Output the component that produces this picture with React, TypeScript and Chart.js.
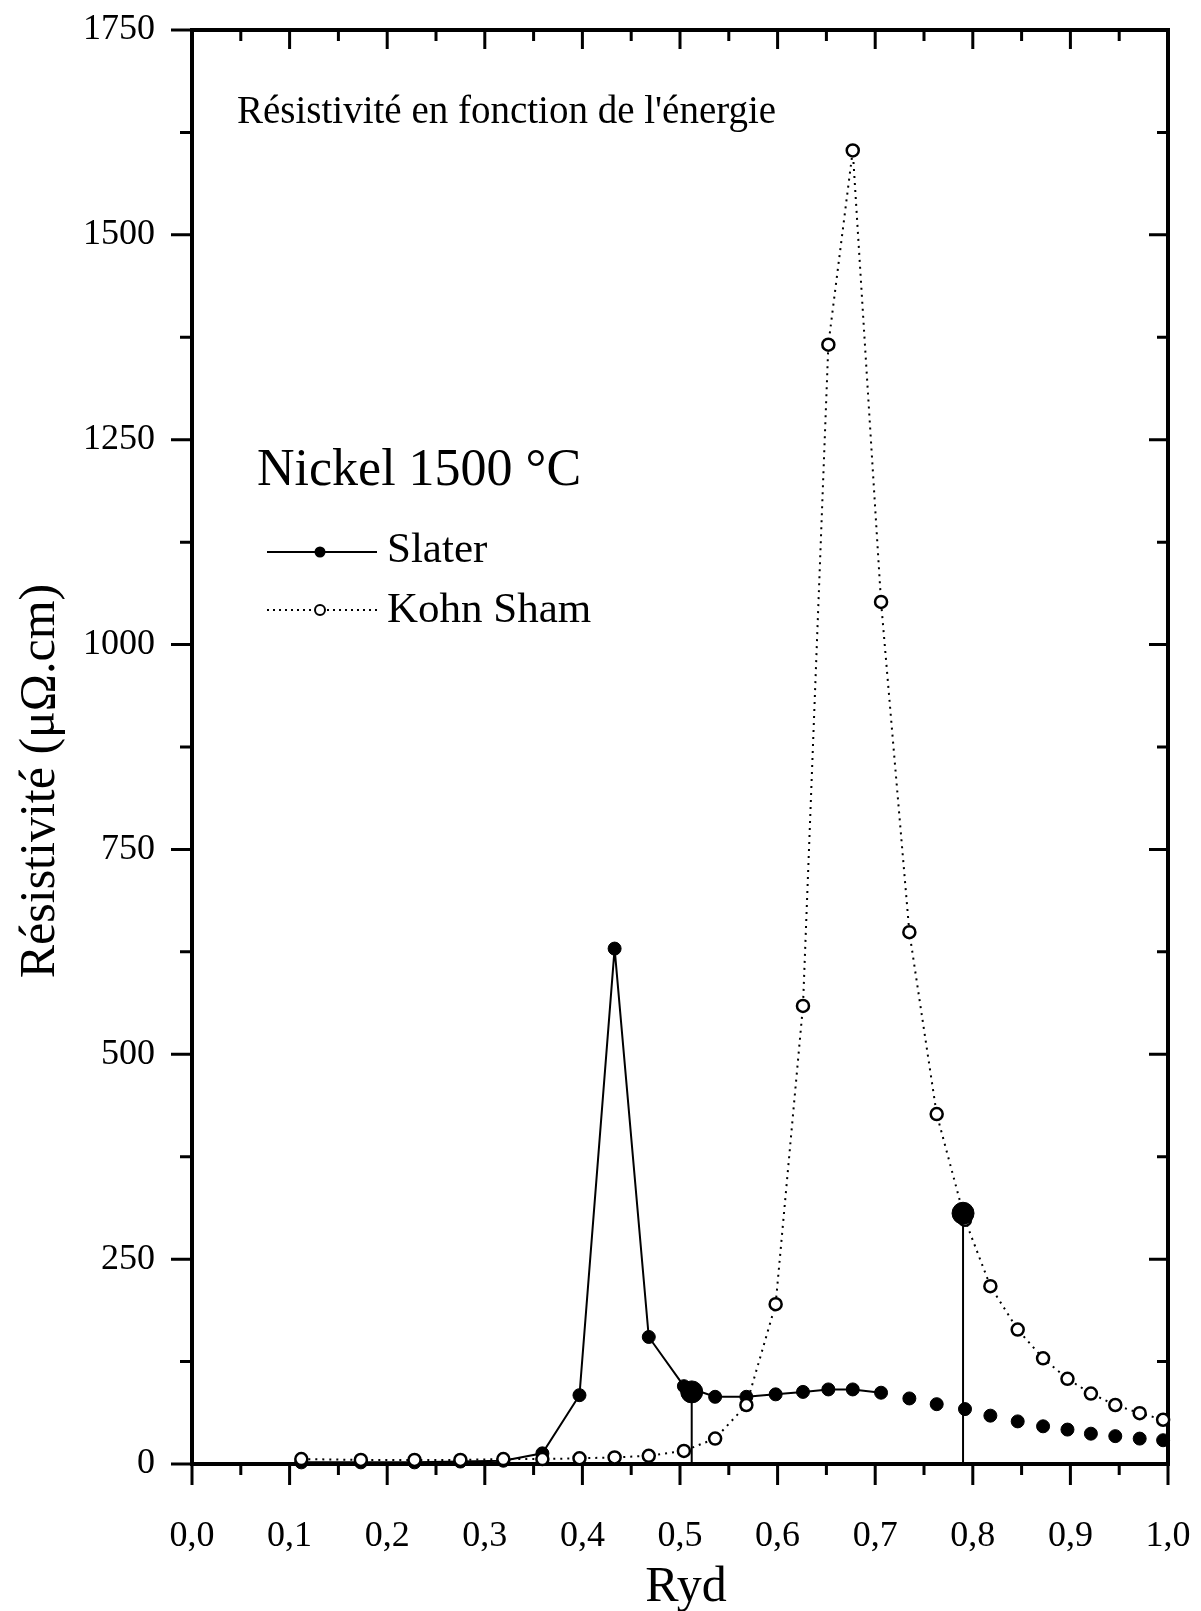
import React, { useEffect, useRef } from 'react';
import { Chart, registerables } from 'chart.js';

Chart.register(...registerables);

// ---- Data ----
const energy = [
  0.112, 0.173, 0.228, 0.275, 0.319, 0.359, 0.397, 0.433, 0.468, 0.504,
  0.536, 0.568, 0.598, 0.626, 0.652, 0.677, 0.706, 0.735, 0.763, 0.792,
  0.818, 0.846, 0.872, 0.897, 0.921, 0.946, 0.971, 0.995,
];
const slaterValues = [
  2, 2, 2, 3, 4, 13, 84, 629, 155, 95,
  82, 82, 85, 88, 91, 91, 87, 80, 73, 67,
  59, 52, 46, 42, 37, 34, 31, 29,
];
const kohnShamValues = [
  6, 5, 5, 5, 6, 6, 7, 8, 10, 16,
  31, 72, 195, 559, 1366, 1603, 1052, 649, 427, 298,
  217, 164, 129, 104, 86, 72, 62, 54,
];
// highlighted points with drop lines
const markerEnergy = [0.512, 0.79];
const markerValues = [88, 306];
// last energy up to which the Slater points are joined by a line
const slaterLineEnd = 0.706;

const xMin = 0;
const xMax = 1;
const xStep = 0.1;
const yMin = 0;
const yMax = 1750;
const yStep = 250;

const titleText = "Résistivité en fonction de l'énergie";
const sampleText = 'Nickel 1500 °C';
const seriesNames = ['Slater', 'Kohn Sham'];
const yTitle = 'Résistivité (μΩ.cm)';
const xTitle = 'Ryd';

const FONT = '"Liberation Serif", "Times New Roman", serif';

const framePlugin = {
  id: 'frameAndText',
  beforeDraw(chart: any) {
    const { ctx, width, height } = chart;
    ctx.save();
    ctx.fillStyle = '#fff';
    ctx.fillRect(0, 0, width, height);
    ctx.restore();
  },
  beforeDatasetsDraw(chart: any) {
    const { ctx, chartArea, scales } = chart;
    const { left, right, top, bottom } = chartArea;
    const x = scales.x;
    const y = scales.y;
    ctx.save();
    ctx.strokeStyle = '#000';
    ctx.lineWidth = 4;
    ctx.strokeRect(left, top, right - left, bottom - top);
    ctx.lineWidth = 3;
    ctx.beginPath();
    const nx = Math.round((xMax - xMin) / (xStep / 2));
    for (let i = 0; i <= nx; i++) {
      const v = xMin + (i * xStep) / 2;
      const major = i % 2 === 0;
      const px = x.getPixelForValue(v);
      ctx.moveTo(px, bottom);
      ctx.lineTo(px, bottom + (major ? 21 : 11));
      ctx.moveTo(px, top);
      ctx.lineTo(px, top + (major ? 19 : 11));
    }
    const ny = Math.round((yMax - yMin) / (yStep / 2));
    for (let j = 0; j <= ny; j++) {
      const v = yMin + (j * yStep) / 2;
      const major = j % 2 === 0;
      const py = y.getPixelForValue(v);
      ctx.moveTo(left, py);
      ctx.lineTo(left - (major ? 21 : 12), py);
      ctx.moveTo(right, py);
      ctx.lineTo(right - (major ? 19 : 11), py);
    }
    ctx.stroke();
    ctx.restore();
  },
  afterDraw(chart: any) {
    const { ctx } = chart;
    ctx.save();
    ctx.fillStyle = '#000';
    ctx.strokeStyle = '#000';
    ctx.textBaseline = 'alphabetic';
    ctx.textAlign = 'left';

    ctx.font = `39px ${FONT}`;
    ctx.fillText(titleText, 237, 123);

    ctx.font = `52px ${FONT}`;
    ctx.fillText(sampleText, 257, 485);

    // legend: Slater
    ctx.lineWidth = 2;
    ctx.setLineDash([]);
    ctx.beginPath();
    ctx.moveTo(267, 552);
    ctx.lineTo(377, 552);
    ctx.stroke();
    ctx.beginPath();
    ctx.arc(320, 552, 5.5, 0, Math.PI * 2);
    ctx.fill();
    // legend: Kohn Sham
    ctx.setLineDash([2, 4]);
    ctx.beginPath();
    ctx.moveTo(267, 610);
    ctx.lineTo(377, 610);
    ctx.stroke();
    ctx.setLineDash([]);
    ctx.beginPath();
    ctx.arc(320, 610, 5, 0, Math.PI * 2);
    ctx.fillStyle = '#fff';
    ctx.fill();
    ctx.lineWidth = 2;
    ctx.stroke();
    ctx.fillStyle = '#000';

    ctx.font = `43px ${FONT}`;
    ctx.fillText(seriesNames[0], 387, 562);
    ctx.fillText(seriesNames[1], 387, 622);

    // axis titles
    ctx.font = `50px ${FONT}`;
    ctx.textAlign = 'center';
    ctx.fillText(xTitle, 686, 1601);

    ctx.save();
    ctx.translate(54, 781);
    ctx.rotate(-Math.PI / 2);
    ctx.font = `50px ${FONT}`;
    ctx.textAlign = 'center';
    ctx.fillText(yTitle, 0, 0);
    ctx.restore();

    ctx.restore();
  },
};

export default function App() {
  const ref = useRef<HTMLCanvasElement>(null);

  useEffect(() => {
    const canvas = ref.current;
    if (!canvas) return;

    const slaterData = energy.map((x, i) => ({ x, y: slaterValues[i] }));
    const ksData = energy.map((x, i) => ({ x, y: kohnShamValues[i] }));
    const markerData = markerEnergy.map((x, i) => ({ x, y: markerValues[i] }));
    const dropLines = markerEnergy.map((x, i) => ({
      label: 'drop' + i,
      data: [
        { x, y: 0 },
        { x, y: markerValues[i] },
      ],
      showLine: true,
      borderColor: '#000',
      borderWidth: 2,
      pointRadius: 0,
      order: 3,
      clip: false as any,
    }));

    const zeroPad = (s: any) => {
      s.paddingTop = 0;
      s.paddingBottom = 0;
      s.paddingLeft = 0;
      s.paddingRight = 0;
    };

    const chart = new Chart(canvas, {
      type: 'scatter',
      data: {
        datasets: [
          {
            label: 'markers',
            data: markerData,
            showLine: false,
            pointRadius: 11,
            pointBackgroundColor: '#000',
            pointBorderColor: '#000',
            pointBorderWidth: 1,
            order: 0,
            clip: false as any,
          },
          {
            label: seriesNames[1],
            data: ksData,
            showLine: true,
            borderColor: '#000',
            borderWidth: 2,
            borderDash: [2, 5],
            pointRadius: 6,
            pointBorderWidth: 2.5,
            pointBackgroundColor: '#fff',
            pointBorderColor: '#000',
            order: 1,
            clip: false as any,
          },
          {
            label: seriesNames[0],
            data: slaterData,
            showLine: true,
            borderColor: '#000',
            borderWidth: 2,
            pointRadius: 6.5,
            pointBackgroundColor: '#000',
            pointBorderColor: '#000',
            pointBorderWidth: 1,
            segment: {
              borderColor: (c: any) =>
                energy[c.p0DataIndex] >= slaterLineEnd ? 'rgba(0,0,0,0)' : '#000',
            },
            order: 2,
            clip: false as any,
          },
          ...dropLines,
        ] as any,
      },
      options: {
        animation: false,
        responsive: false,
        devicePixelRatio: 1,
        events: [],
        layout: { padding: { left: 0, right: 33, top: 30, bottom: 0 } },
        plugins: {
          legend: { display: false },
          tooltip: { enabled: false },
          title: { display: false },
        },
        scales: {
          x: {
            type: 'linear',
            position: 'bottom',
            min: xMin,
            max: xMax,
            grid: { display: false, drawTicks: false },
            border: { display: false },
            ticks: {
              stepSize: xStep,
              autoSkip: false,
              maxRotation: 0,
              padding: 51,
              color: '#000',
              font: { family: FONT, size: 36 },
              callback: (v: any) => Number(v).toFixed(1).replace('.', ','),
            },
            afterFit: (s: any) => {
              s.height = 147;
              zeroPad(s);
            },
          },
          y: {
            type: 'linear',
            min: yMin,
            max: yMax,
            grid: { display: false, drawTicks: false },
            border: { display: false },
            ticks: {
              stepSize: yStep,
              autoSkip: false,
              padding: 37,
              color: '#000',
              font: { family: FONT, size: 36 },
              callback: (v: any) => String(Math.round(Number(v))),
            },
            afterFit: (s: any) => {
              s.width = 192;
              zeroPad(s);
            },
          },
        },
      } as any,
      plugins: [framePlugin],
    });

    return () => chart.destroy();
  }, []);

  return (
    <div style={{ position: 'absolute', left: 0, top: 0, width: 1201, height: 1611, background: '#fff' }}>
      <canvas ref={ref} width={1201} height={1611} style={{ display: 'block', width: 1201, height: 1611 }} />
    </div>
  );
}
